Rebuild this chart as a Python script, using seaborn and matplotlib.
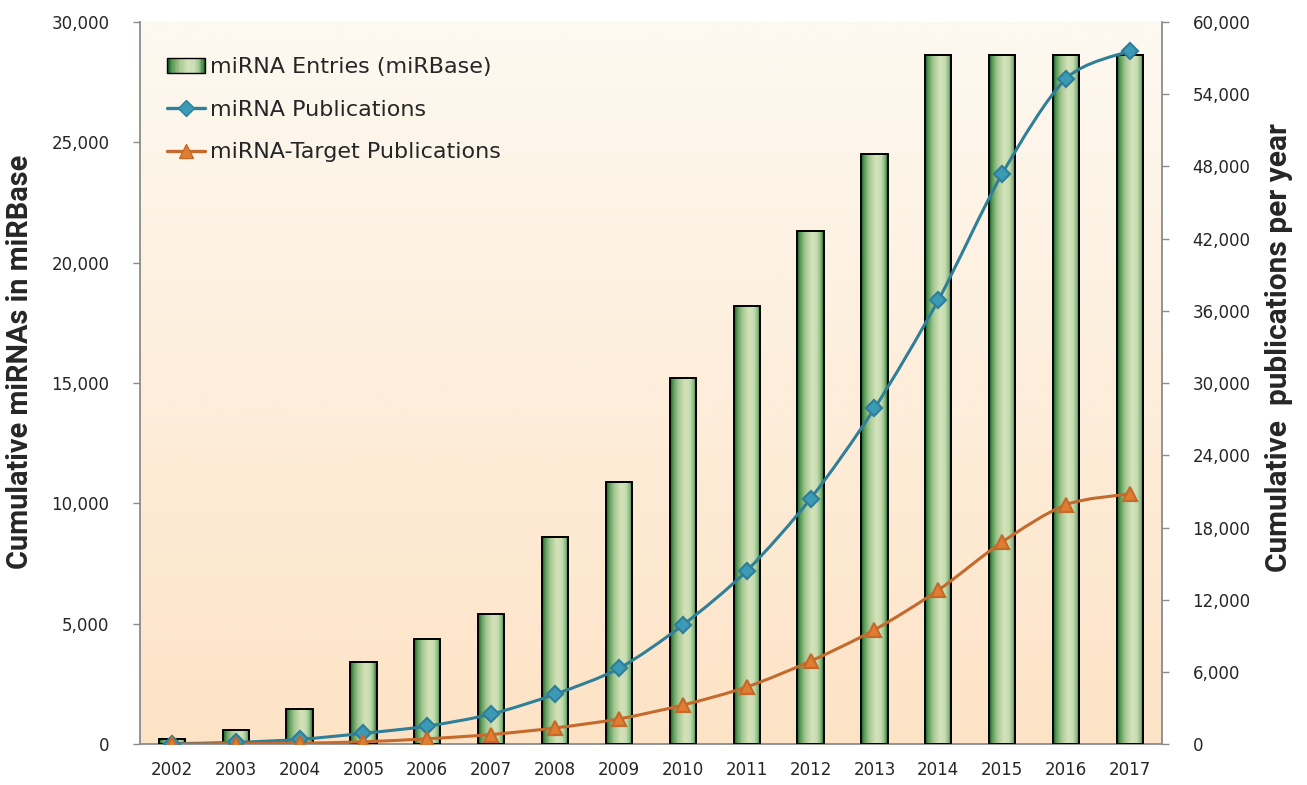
import numpy as np
import matplotlib
matplotlib.use("Agg")
import matplotlib.pyplot as plt
import seaborn as sns
from matplotlib.colors import LinearSegmentedColormap
from matplotlib.patches import Rectangle, PathPatch
from matplotlib.path import Path
from matplotlib.lines import Line2D
from matplotlib.legend_handler import HandlerBase
from matplotlib.ticker import FuncFormatter

# data
years = [str(y) for y in range(2002, 2018)]
mirbase_entries = [218, 593, 1450, 3420, 4350, 5400, 8600, 10900, 15200,
                   18200, 21300, 24500, 28645, 28645, 28645, 28645]
mirna_pubs = [40, 150, 400, 900, 1500, 2500, 4150, 6300, 9900, 14400,
              20400, 27900, 36900, 47400, 55300, 57600]
target_pubs = [0, 50, 80, 200, 450, 800, 1350, 2100, 3250, 4750, 6900,
               9500, 12800, 16800, 19900, 20800]

bar_label = "miRNA Entries (miRBase)"
pub_label = "miRNA Publications"
target_label = "miRNA-Target Publications"

sns.set_style("white")
plt.rcParams["font.family"] = ["DejaVu Sans"]

BLUE = "#2f7f98"
BLUE_M = "#3b9ab6"
ORANGE = "#c46a2c"
ORANGE_M = "#e27d30"
SPINE = "#8c8c8c"
TITLE_FONT = ["Roboto", "DejaVu Sans"]

bar_cmap = LinearSegmentedColormap.from_list(
    "cyl", [(0.0, "#16622a"), (0.12, "#5b9b57"), (0.3, "#a4c690"),
            (0.55, "#d3e3bb"), (0.75, "#c7dcb1"), (0.88, "#8dbb7e"), (1.0, "#1a6629")])
bg_cmap = LinearSegmentedColormap.from_list("bg", ["#fde3c6", "#fdf9f1"])


class GradientHandler(HandlerBase):
    def create_artists(self, legend, orig, xd, yd, width, height, fontsize, trans):
        arts = []
        n = 30
        for i in range(n):
            arts.append(Rectangle((xd + width * i / n, yd), width / n, height,
                                  facecolor=bar_cmap(i / (n - 1)), edgecolor="none",
                                  transform=trans))
        arts.append(Rectangle((xd, yd), width, height, facecolor="none",
                              edgecolor="black", lw=1.0, transform=trans))
        return arts


def smooth_path(xs, ys, k=7.0):
    pts = np.column_stack([xs, ys]).astype(float)
    verts = [pts[0]]
    codes = [Path.MOVETO]
    n = len(pts)
    for i in range(n - 1):
        p0 = pts[i - 1] if i > 0 else pts[i]
        p1, p2 = pts[i], pts[i + 1]
        p3 = pts[i + 2] if i + 2 < n else pts[i + 1]
        c1 = p1 + (p2 - p0) / k
        c2 = p2 - (p3 - p1) / k
        verts += [c1, c2, p2]
        codes += [Path.CURVE4] * 3
    return Path(verts, codes)


fig = plt.figure(figsize=(13.07, 7.85), dpi=100)
ax = fig.add_axes([0.107, 0.052, 0.782, 0.92])

sns.barplot(x=years, y=mirbase_entries, ax=ax, color="#7fb069",
            edgecolor="black", linewidth=1.4, width=0.41, zorder=3)

# background gradient of the plot area
ax.imshow(np.linspace(0, 1, 256).reshape(-1, 1)[::-1], cmap=bg_cmap,
          extent=[0, 1, 0, 1], transform=ax.transAxes, aspect="auto", zorder=0)

# cylinder-like gradient in every bar
grad = np.linspace(0, 1, 64).reshape(1, -1)
for p in ax.patches:
    x0, w, h = p.get_x(), p.get_width(), p.get_height()
    ax.imshow(grad, cmap=bar_cmap, extent=[x0, x0 + w, 0, h], aspect="auto",
              zorder=2, interpolation="bilinear")
    p.set_facecolor("none")

ax.set_xlim(-0.5, len(years) - 0.5)
ax.set_ylim(0, 30000)
ax.set_yticks(np.arange(0, 30001, 5000))
ax.yaxis.set_major_formatter(FuncFormatter(lambda v, _: f"{int(v):,}"))
ax.set_xlabel("")
ax.set_ylabel("Cumulative miRNAs in miRBase", fontsize=20.8, fontweight="bold",
              family=TITLE_FONT)
ax.yaxis.set_label_coords(-0.104, 0.529)
ax.tick_params(axis="y", direction="out", length=5, width=1, color=SPINE,
               labelsize=12, pad=17, left=True)
ax.tick_params(axis="x", length=0, labelsize=12, pad=12)
for s in ["top", "right"]:
    ax.spines[s].set_visible(False)
for s in ["left", "bottom"]:
    ax.spines[s].set_color(SPINE)
    ax.spines[s].set_linewidth(1.3)

ax2 = ax.twinx()
pos = np.arange(len(years))
ax2.add_patch(PathPatch(smooth_path(pos, mirna_pubs), facecolor="none",
                        edgecolor=BLUE, lw=2.2, zorder=3))
ax2.add_patch(PathPatch(smooth_path(pos, target_pubs), facecolor="none",
                        edgecolor=ORANGE, lw=2.2, zorder=3))
sns.lineplot(x=pos, y=mirna_pubs, ax=ax2, marker="D", markersize=8,
             markerfacecolor=BLUE_M, markeredgecolor=BLUE, markeredgewidth=1.6,
             linestyle="none", zorder=4)
sns.lineplot(x=pos, y=target_pubs, ax=ax2, marker="^", markersize=10,
             markerfacecolor=ORANGE_M, markeredgecolor=ORANGE, markeredgewidth=1.6,
             linestyle="none", zorder=4)
ax2.set_xlim(-0.5, len(years) - 0.5)
ax2.set_ylim(0, 60000)
ax2.set_yticks(np.arange(0, 60001, 6000))
ax2.yaxis.set_major_formatter(FuncFormatter(lambda v, _: f"{int(v):,}"))
ax2.set_ylabel("Cumulative  publications per year", fontsize=21.5, fontweight="bold",
               family=TITLE_FONT)
ax2.yaxis.set_label_coords(1.101, 0.5485)
ax2.tick_params(axis="y", direction="out", length=5, width=1, color=SPINE,
                labelsize=12, pad=17, right=True)
for s in ["top", "left", "bottom"]:
    ax2.spines[s].set_visible(False)
ax2.spines["right"].set_color(SPINE)
ax2.spines["right"].set_linewidth(1.3)
ax2.grid(False)

handles = [
    Rectangle((0, 0), 1, 1),
    Line2D([], [], color=BLUE, lw=2.4, marker="D", markersize=8,
           markerfacecolor=BLUE_M, markeredgecolor=BLUE),
    Line2D([], [], color=ORANGE, lw=2.4, marker="^", markersize=10,
           markerfacecolor=ORANGE_M, markeredgecolor=ORANGE),
]
ax2.legend(handles, [bar_label, pub_label, target_label],
           handler_map={Rectangle: GradientHandler()},
           loc="upper left", bbox_to_anchor=(0.027, 0.952), frameon=False,
           borderpad=0, borderaxespad=0,
           prop={"family": "DejaVu Sans", "size": 16}, labelspacing=1.03,
           handlelength=1.7, handleheight=0.65, handletextpad=0.2)

fig.savefig("out.png", dpi=100)
